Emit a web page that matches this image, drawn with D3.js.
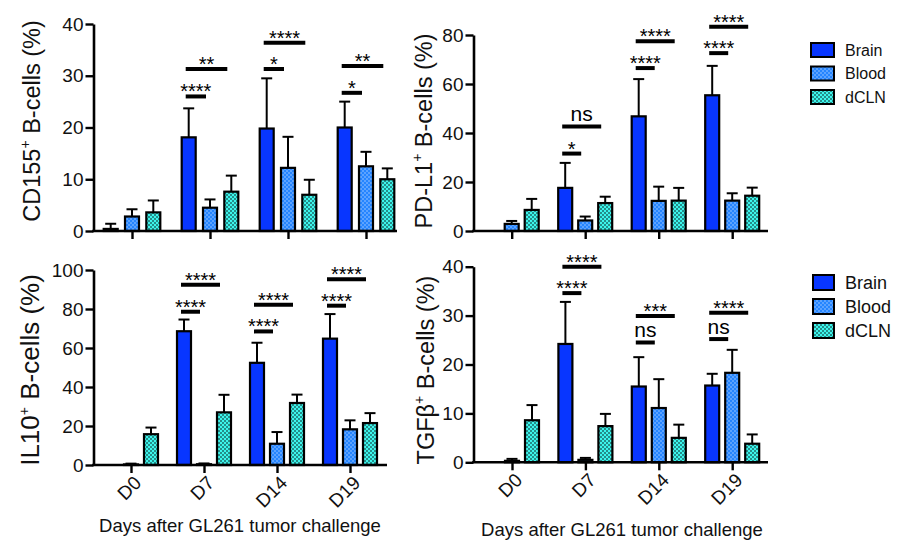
<!DOCTYPE html>
<html><head><meta charset="utf-8">
<script src="https://cdn.jsdelivr.net/npm/d3@7"></script>
<style>body{margin:0;background:#fff} svg{font-family:Arial,"Liberation Sans",sans-serif;display:block}</style>
</head><body><svg id="c" width="909" height="549"></svg>
<script>
// ---------- data ----------
const days = ["D0", "D7", "D14", "D19"];
const tissues = ["Brain", "Blood", "dCLN"];

// CD155+ B-cells (%)
const cd155Brain = [0.4, 18.1, 19.8, 20.0];
const cd155BrainErr = [1.0, 5.6, 9.7, 5.0];
const cd155Blood = [2.8, 4.5, 12.2, 12.5];
const cd155BloodErr = [1.4, 1.6, 6.0, 2.8];
const cd155Dcln = [3.6, 7.6, 7.0, 10.0];
const cd155DclnErr = [2.3, 3.1, 2.9, 2.1];
const cd155Ticks = [0, 10, 20, 30, 40];
const cd155Sig = [["D7", "Blood", 26.0, "****"], ["D7", "dCLN", 31.3, "**"],
                  ["D14", "Blood", 31.3, "*"], ["D14", "dCLN", 36.4, "****"],
                  ["D19", "Blood", 26.7, "*"], ["D19", "dCLN", 31.9, "**"]];

// PD-L1+ B-cells (%)
const pdl1Brain = [0, 17.6, 46.8, 55.4];
const pdl1BrainErr = [0, 10.2, 15.2, 12.0];
const pdl1Blood = [2.9, 4.3, 12.3, 12.4];
const pdl1BloodErr = [1.2, 1.6, 5.8, 3.0];
const pdl1Dcln = [8.6, 11.4, 12.4, 14.4];
const pdl1DclnErr = [4.5, 2.6, 5.2, 3.3];
const pdl1Ticks = [0, 20, 40, 60, 80];
const pdl1Sig = [["D7", "Blood", 31.6, "*"], ["D7", "dCLN", 42.7, "ns"],
                 ["D14", "Blood", 66.5, "****"], ["D14", "dCLN", 77.4, "****"],
                 ["D19", "Blood", 72.6, "****"], ["D19", "dCLN", 83.4, "****"]];

// IL10+ B-cells (%)
const il10Brain = [0, 68.6, 52.4, 64.8];
const il10BrainErr = [0, 6.0, 10.3, 12.6];
const il10Blood = [0.3, 0.4, 10.9, 18.3];
const il10BloodErr = [0.4, 0.4, 6.0, 4.6];
const il10Dcln = [15.8, 27.0, 31.8, 21.5];
const il10DclnErr = [3.4, 9.0, 4.3, 5.1];
const il10Ticks = [0, 20, 40, 60, 80, 100];
const il10Sig = [["D7", "Blood", 78.6, "****"], ["D7", "dCLN", 92.5, "****"],
                 ["D14", "Blood", 68.5, "****"], ["D14", "dCLN", 82.2, "****"],
                 ["D19", "Blood", 81.7, "****"], ["D19", "dCLN", 95.2, "****"]];

// TGFβ+ B-cells (%)
const tgfBrain = [0, 24.2, 15.5, 15.7];
const tgfBrainErr = [0, 8.6, 6.0, 2.4];
const tgfBlood = [0.3, 0.5, 11.1, 18.3];
const tgfBloodErr = [0.4, 0.4, 5.9, 4.7];
const tgfDcln = [8.6, 7.4, 5.0, 3.8];
const tgfDclnErr = [3.1, 2.5, 2.7, 1.9];
const tgfTicks = [0, 10, 20, 30, 40];
const tgfSig = [["D7", "Blood", 34.6, "****"], ["D7", "dCLN", 40.0, "****"],
                ["D14", "Blood", 24.5, "ns"], ["D14", "dCLN", 29.9, "***"],
                ["D19", "Blood", 25.2, "ns"], ["D19", "dCLN", 30.6, "****"]];

const xTitle = "Days after GL261 tumor challenge";

// ---------- drawing ----------
const svg = d3.select("#c");
const defs = svg.append("defs");
const pBlood = defs.append("pattern").attr("id", "pBlood").attr("patternUnits", "userSpaceOnUse")
  .attr("width", 4).attr("height", 4);
pBlood.append("rect").attr("width", 4).attr("height", 4).attr("fill", "#2585ff");
pBlood.append("rect").attr("x", 0.5).attr("y", 0.5).attr("width", 1).attr("height", 1).attr("fill", "#ffffff");
pBlood.append("rect").attr("x", 2.5).attr("y", 2.5).attr("width", 1).attr("height", 1).attr("fill", "#ffffff");
const pDcln = defs.append("pattern").attr("id", "pDcln").attr("patternUnits", "userSpaceOnUse")
  .attr("width", 4).attr("height", 4);
pDcln.append("rect").attr("width", 4).attr("height", 4).attr("fill", "#3cf5ec");
pDcln.append("rect").attr("x", 0.3).attr("y", 0.3).attr("width", 1.4).attr("height", 1.4).attr("fill", "#0a2424");
pDcln.append("rect").attr("x", 2.3).attr("y", 2.3).attr("width", 1.4).attr("height", 1.4).attr("fill", "#0a2424");

const fills = { Brain: "#0836ff", Blood: "url(#pBlood)", dCLN: "url(#pDcln)" };

const panels = [
  { name: "CD155", sup: "+", rest: " B-cells (%)", means: [cd155Brain, cd155Blood, cd155Dcln],
    errs: [cd155BrainErr, cd155BloodErr, cd155DclnErr], ticks: cd155Ticks, sig: cd155Sig,
    ax: 93.5, y0: 231, y1: 24, xEnd: 397, x0: 132, gStep: 78, bStep: 21.3, bw: 14,
    titleX: 40, titleY: 121, titleFs: 23.5, xLabels: false },
  { name: "PD-L1", sup: "+", rest: " B-cells (%)", means: [pdl1Brain, pdl1Blood, pdl1Dcln],
    errs: [pdl1BrainErr, pdl1BloodErr, pdl1DclnErr], ticks: pdl1Ticks, sig: pdl1Sig,
    ax: 473.5, y0: 231, y1: 35, xEnd: 768, x0: 511.7, gStep: 73.5, bStep: 20, bw: 14,
    titleX: 432, titleY: 131, titleFs: 23.5, xLabels: false,
    legend: { x: 811, y: 43, w: 23, h: 14, gap: 23.5, fs: 16 } },
  { name: "IL10", sup: "+", rest: " B-cells (%)", means: [il10Brain, il10Blood, il10Dcln],
    errs: [il10BrainErr, il10BloodErr, il10DclnErr], ticks: il10Ticks, sig: il10Sig,
    ax: 93.5, y0: 465, y1: 270, xEnd: 387, x0: 131, gStep: 73, bStep: 20, bw: 14,
    titleX: 39, titleY: 370, titleFs: 26, xLabels: true, xtX: 240, xtY: 532 },
  { name: "TGFβ", sup: "+", rest: " B-cells (%)", means: [tgfBrain, tgfBlood, tgfDcln],
    errs: [tgfBrainErr, tgfBloodErr, tgfDclnErr], ticks: tgfTicks, sig: tgfSig,
    ax: 473.5, y0: 462.3, y1: 266.7, xEnd: 768, x0: 512, gStep: 73.4, bStep: 20, bw: 14,
    titleX: 434, titleY: 370, titleFs: 23.5, xLabels: true, xtX: 622, xtY: 536,
    legend: { x: 813, y: 275, w: 21, h: 15, gap: 24, fs: 18 } }
];

panels.forEach(p => {
  const g = svg.append("g");
  const yMax = p.ticks[p.ticks.length - 1];
  const y = d3.scaleLinear().domain([0, yMax]).range([p.y0, p.y1]);
  const x = d3.scalePoint().domain(days).range([p.x0, p.x0 + 3 * p.gStep]);
  const inner = d3.scaleBand().domain(tissues)
    .range([-(2 * p.bStep + p.bw) / 2, (2 * p.bStep + p.bw) / 2])
    .paddingInner((p.bStep - p.bw) / p.bStep).paddingOuter(0);
  const cx = (d, t) => x(d) + inner(t) + inner.bandwidth() / 2;

  // bars + error bars
  tissues.forEach((t, ti) => {
    const rows = days.map((d, i) => ({ d, v: p.means[ti][i], e: p.errs[ti][i] }));
    const gg = g.append("g");
    gg.selectAll("line.err").data(rows.filter(r => r.e > 0)).join("line")
      .attr("x1", r => cx(r.d, t)).attr("x2", r => cx(r.d, t))
      .attr("y1", r => y(r.v)).attr("y2", r => y(r.v + r.e))
      .attr("stroke", "#000").attr("stroke-width", 2);
    gg.selectAll("line.cap").data(rows.filter(r => r.e > 0)).join("line")
      .attr("x1", r => cx(r.d, t) - 5.5).attr("x2", r => cx(r.d, t) + 5.5)
      .attr("y1", r => y(r.v + r.e)).attr("y2", r => y(r.v + r.e))
      .attr("stroke", "#000").attr("stroke-width", 2);
    gg.selectAll("rect").data(rows).join("rect")
      .attr("x", r => x(r.d) + inner(t)).attr("width", inner.bandwidth())
      .attr("y", r => y(r.v)).attr("height", r => y(0) - y(r.v))
      .attr("fill", fills[t]).attr("stroke", "#000").attr("stroke-width", 2.2);
  });

  // significance
  p.sig.forEach(([d, t, v, lab]) => {
    const xa = cx(d, "Brain") - 3, xb = cx(d, t) - 4;
    g.append("line").attr("x1", xa).attr("x2", xb).attr("y1", y(v)).attr("y2", y(v))
      .attr("stroke", "#000").attr("stroke-width", 4);
    const ns = lab === "ns";
    g.append("text").attr("x", (xa + xb) / 2).attr("y", y(v) + (ns ? -5 : 2))
      .attr("text-anchor", "middle").attr("font-size", ns ? 21 : 20)
      .attr("fill", "#000").text(lab);
  });

  // y axis
  const ya = g.append("g").attr("transform", `translate(${p.ax},0)`)
    .call(d3.axisLeft(y).tickValues(p.ticks).tickSize(8).tickSizeOuter(0).tickPadding(2));
  ya.select(".domain").attr("stroke-width", 2.6);
  ya.selectAll(".tick line").attr("stroke-width", 2.4);
  ya.selectAll(".tick text").attr("font-size", 19).attr("fill", "#111").attr("font-family", "Arial, Liberation Sans, sans-serif");

  // x axis
  g.append("line").attr("x1", p.ax - 1.3).attr("x2", p.xEnd).attr("y1", p.y0).attr("y2", p.y0)
    .attr("stroke", "#000").attr("stroke-width", 2.6);
  const xa = g.append("g").attr("transform", `translate(0,${p.y0})`)
    .call(d3.axisBottom(x).tickSize(8).tickSizeOuter(0));
  xa.select(".domain").remove();
  xa.selectAll(".tick line").attr("stroke-width", 2.4);
  if (p.xLabels) {
    xa.selectAll(".tick text").attr("font-size", 19).attr("fill", "#111")
      .attr("font-family", "Arial, Liberation Sans, sans-serif")
      .attr("text-anchor", "end").attr("y", 0).attr("dy", 0)
      .attr("transform", "translate(11,19) rotate(-45)");
    g.append("text").attr("x", p.xtX).attr("y", p.xtY).attr("text-anchor", "middle")
      .attr("font-size", 18.5).attr("fill", "#111").text(xTitle);
  } else {
    xa.selectAll(".tick text").remove();
  }

  // y title
  const tt = g.append("text").attr("transform", `translate(${p.titleX},${p.titleY}) rotate(-90)`)
    .attr("text-anchor", "middle").attr("font-size", p.titleFs).attr("fill", "#111");
  tt.append("tspan").text(p.name);
  tt.append("tspan").attr("dy", -10).attr("font-size", 14).text(p.sup);
  tt.append("tspan").attr("dy", 10).text(p.rest);

  // legend
  if (p.legend) {
    const L = p.legend;
    const lg = g.append("g");
    tissues.forEach((t, i) => {
      lg.append("rect").attr("x", L.x).attr("y", L.y + i * L.gap).attr("width", L.w).attr("height", L.h)
        .attr("fill", fills[t]).attr("stroke", "#000").attr("stroke-width", 2);
      lg.append("text").attr("x", L.x + L.w + 11).attr("y", L.y + i * L.gap + L.h / 2)
        .attr("dy", "0.36em").attr("font-size", L.fs).attr("fill", "#111").text(t);
    });
  }
});
</script>
</body></html>
